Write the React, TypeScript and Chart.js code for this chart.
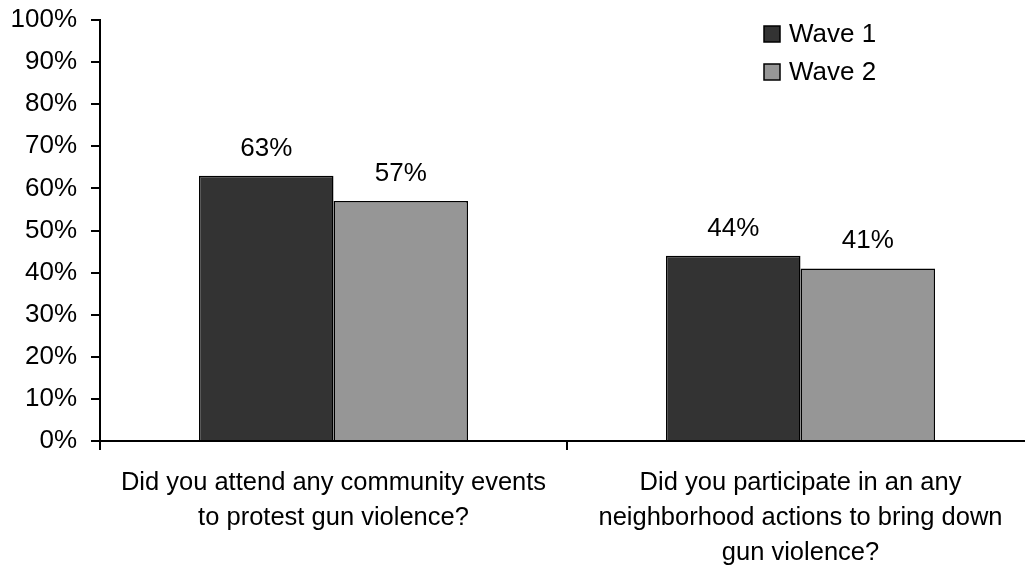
import React, { useEffect, useRef } from "react";
import { Chart, registerables } from "chart.js";

Chart.register(...registerables);

const categories: string[][] = [
  ["Did you attend any community events", "to protest gun violence?"],
  ["Did you participate in an any", "neighborhood actions to bring down", "gun violence?"],
];
const seriesNames = ["Wave 1", "Wave 2"];
const wave1Values = [63, 44];
const wave2Values = [57, 41];
const yTickValues = [0, 10, 20, 30, 40, 50, 60, 70, 80, 90, 100];

const FONT = "'Liberation Sans', Arial, sans-serif";
const COLORS = ["#333333", "#969696"];

const dataLabelPlugin = {
  id: "dataLabels",
  afterDatasetsDraw(chart: any) {
    const ctx = chart.ctx;
    ctx.save();
    ctx.font = `26px ${FONT}`;
    ctx.fillStyle = "#000";
    ctx.textAlign = "center";
    ctx.textBaseline = "alphabetic";
    chart.data.datasets.forEach((ds: any, i: number) => {
      const meta = chart.getDatasetMeta(i);
      meta.data.forEach((el: any, j: number) => {
        ctx.fillText(`${ds.data[j]}%`, el.x, el.y - 20);
      });
    });
    ctx.restore();
  },
};

const legendPlugin = {
  id: "customLegend",
  afterDraw(chart: any) {
    const ctx = chart.ctx;
    ctx.save();
    ctx.font = `26px ${FONT}`;
    ctx.textAlign = "left";
    ctx.textBaseline = "middle";
    chart.data.datasets.forEach((ds: any, i: number) => {
      const cy = 34 + i * 38;
      ctx.fillStyle = ds.backgroundColor;
      ctx.fillRect(764, cy - 8, 16, 16);
      ctx.strokeStyle = "#000";
      ctx.lineWidth = 1.5;
      ctx.strokeRect(764, cy - 8, 16, 16);
      ctx.fillStyle = "#000";
      ctx.fillText(ds.label, 789, cy + 1);
    });
    ctx.restore();
  },
};

export default function App() {
  const ref = useRef<HTMLCanvasElement>(null);
  useEffect(() => {
    if (!ref.current) return;
    const chart = new Chart(ref.current, {
      type: "bar",
      data: {
        labels: categories,
        datasets: [
          {
            label: seriesNames[0],
            data: wave1Values,
            backgroundColor: COLORS[0],
            borderColor: "#000",
            borderWidth: 1.5,
            categoryPercentage: 0.576,
            barPercentage: 1,
          },
          {
            label: seriesNames[1],
            data: wave2Values,
            backgroundColor: COLORS[1],
            borderColor: "#000",
            borderWidth: 1.5,
            categoryPercentage: 0.576,
            barPercentage: 1,
          },
        ],
      },
      options: {
        responsive: false,
        animation: false,
        devicePixelRatio: 1,
        layout: { padding: { top: 20, left: 8, right: 6, bottom: 0 } },
        plugins: { legend: { display: false }, tooltip: { enabled: false } },
        scales: {
          x: {
            afterFit: (s: any) => {
              s.height = 124;
            },
            grid: {
              drawOnChartArea: false,
              drawTicks: true,
              tickLength: 9,
              color: "#000",
              lineWidth: 2,
              offset: true,
            },
            border: { display: true, color: "#000", width: 2 },
            ticks: {
              color: "#000",
              font: { family: FONT, size: 25.5, lineHeight: 1.38 },
              padding: 15,
              maxRotation: 0,
              autoSkip: false,
            },
          },
          y: {
            min: 0,
            max: 100,
            afterFit: (s: any) => {
              s.width = 92;
              s.paddingTop = 0;
              s.paddingBottom = 0;
            },
            afterBuildTicks: (s: any) => {
              s.ticks = yTickValues.map((v) => ({ value: v }));
            },
            grid: {
              drawOnChartArea: false,
              drawTicks: true,
              tickLength: 9,
              color: "#000",
              lineWidth: 2,
            },
            border: { display: true, color: "#000", width: 2 },
            ticks: {
              color: "#000",
              font: { family: FONT, size: 26 },
              padding: 14,
              callback: (v: any) => `${v}%`,
            },
          },
        },
      },
      plugins: [dataLabelPlugin, legendPlugin],
    });
    return () => chart.destroy();
  }, []);
  return (
    <div
      style={{
        position: "fixed",
        left: 0,
        top: 0,
        width: 1025,
        height: 565,
        overflow: "hidden",
        background: "#fff",
      }}
    >
      <canvas ref={ref} width={1040} height={565} style={{ width: 1040, height: 565, display: "block" }} />
    </div>
  );
}
